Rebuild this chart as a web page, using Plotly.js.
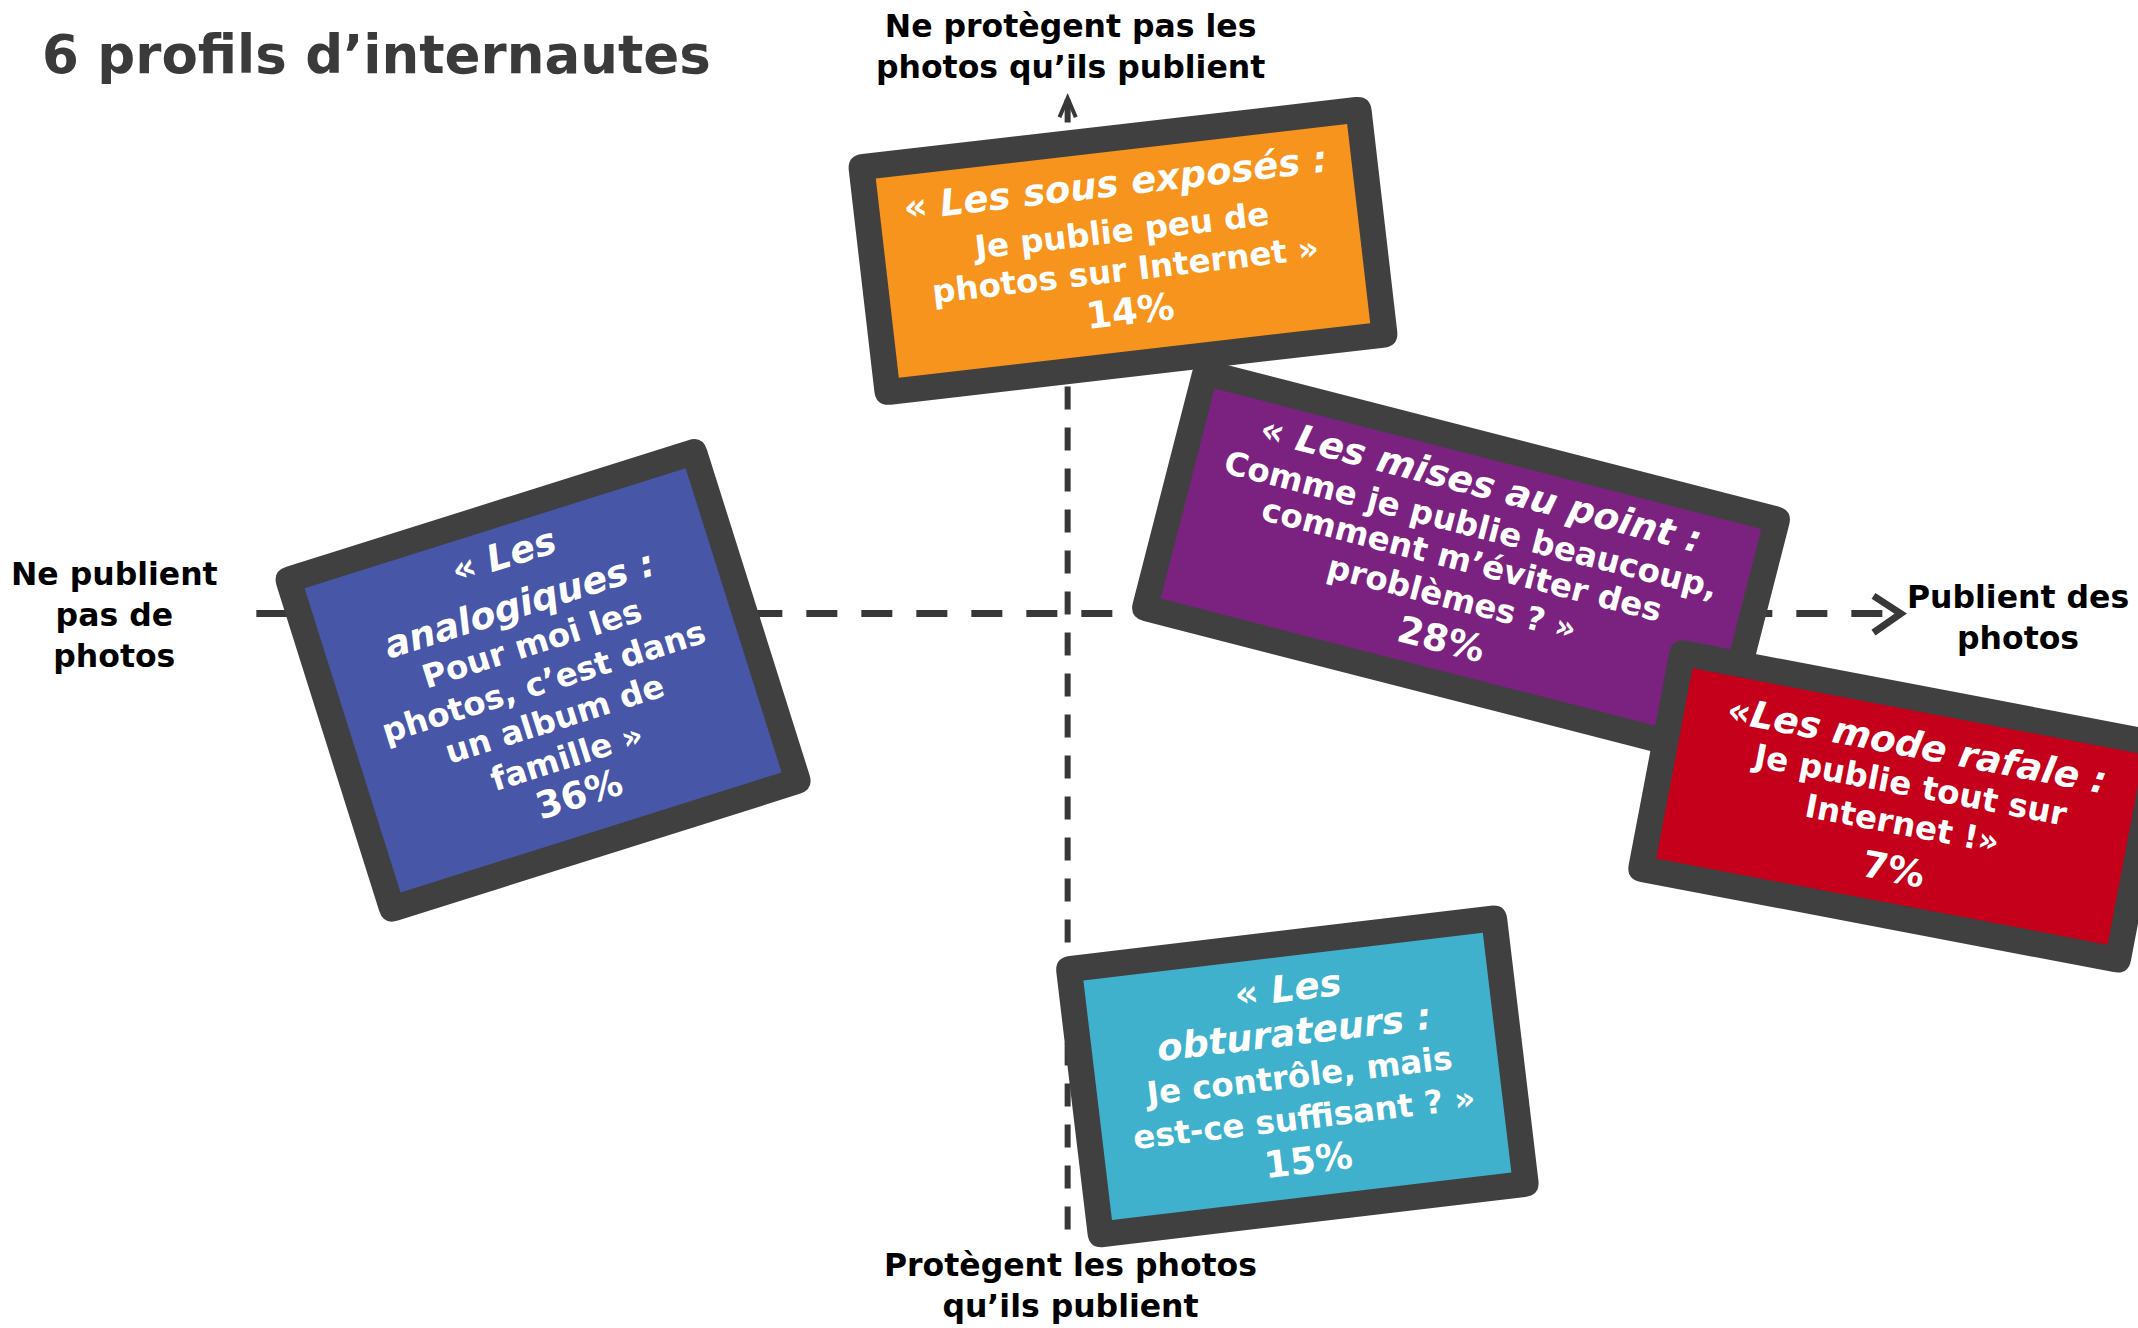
<!DOCTYPE html>
<html>
<head>
<meta charset="utf-8">
<script src="https://cdn.plot.ly/plotly-3.0.1.min.js"></script>
<style>html,body{margin:0;padding:0;background:#fff;}#chart{width:2138px;height:1328px;}</style>
</head>
<body>
<div id="chart"></div>
<script>
// ---- data ----
const chartTitle = "6 profils d’internautes";
const headLines = [
  ["« <i>Les sous exposés :</i>"],
  ["« <i>Les</i>", "<i>analogiques :</i>"],
  ["« <i>Les mises au point :</i>"],
  ["«<i>Les mode rafale :</i>"],
  ["« <i>Les</i>", "<i>obturateurs :</i>"]
];
const quoteLines = [
  ["Je publie peu de", "photos sur Internet »"],
  ["Pour moi les", "photos, c’est dans", "un album de", "famille »"],
  ["Comme je publie beaucoup,", "comment m’éviter des", "problèmes ? »"],
  ["Je publie tout sur", "Internet !»"],
  ["Je contrôle, mais", "est-ce suffisant ? »"]
];
const shares = [14, 36, 28, 7, 15];
const axisLabels = {
  top: "Ne protègent pas les<br>photos qu’ils publient",
  bottom: "Protègent les photos<br>qu’ils publient",
  left: "Ne publient<br>pas de<br>photos",
  right: "Publient des<br>photos"
};

// ---- styles / geometry (drawing units: 1568 x 974 canvas) ----
const boxColors = ['#F7941D', '#4756A6', '#7B2280', '#C4001A', '#3FB1CC'];
const frameColor = '#404040';
const geom = [
  {cx: 823.6, cy: 184,   w: 386, h: 185, ang: -6.6,  du: 0, dv: [-50, -15, 14, 45]},
  {cx: 398.3, cy: 499,   w: 331, h: 272, ang: -17.5, du: 0, dv: [-96, -58, -28, 1, 30, 59, 88]},
  {cx: 1071.5, cy: 413.5, w: 452, h: 197, ang: 14.4, du: 0, dv: [-60, -29, -2.5, 26, 57]},
  {cx: 1393.5, cy: 591.5, w: 375, h: 180, ang: 10.8, du: 4, dv: [-46, -16.5, 12, 46]},
  {cx: 951.5, cy: 789.5, w: 333, h: 215, ang: -6.8, du: 1, dv: [-65, -32, 0, 30.6, 62]}
];
const drawOrder = [2, 0, 3, 1, 4];
const frame = 19, radius = 11;
const FONT = 'DejaVu Sans, Verdana, sans-serif';

function pt(g, lx, ly) {
  const t = g.ang * Math.PI / 180, c = Math.cos(t), s = Math.sin(t);
  return [g.cx + lx * c - ly * s, g.cy + lx * s + ly * c];
}
function P(p) { return p[0].toFixed(2) + ',' + p[1].toFixed(2); }
function roundedRect(g, w, h, r) {
  const a = w / 2, b = h / 2;
  let d = 'M' + P(pt(g, -a + r, -b));
  d += ' L' + P(pt(g, a - r, -b)) + ' Q' + P(pt(g, a, -b)) + ' ' + P(pt(g, a, -b + r));
  d += ' L' + P(pt(g, a, b - r)) + ' Q' + P(pt(g, a, b)) + ' ' + P(pt(g, a - r, b));
  d += ' L' + P(pt(g, -a + r, b)) + ' Q' + P(pt(g, -a, b)) + ' ' + P(pt(g, -a, b - r));
  d += ' L' + P(pt(g, -a, -b + r)) + ' Q' + P(pt(g, -a, -b)) + ' ' + P(pt(g, -a + r, -b)) + ' Z';
  return d;
}
function rect(g, w, h) {
  const a = w / 2, b = h / 2;
  return 'M' + P(pt(g, -a, -b)) + ' L' + P(pt(g, a, -b)) + ' L' + P(pt(g, a, b)) + ' L' + P(pt(g, -a, b)) + ' Z';
}

const shapes = [];
const annotations = [];
const dashColor = '#383838';

// axes (dashed) with chevrons
shapes.push({type: 'line', xref: 'x', yref: 'y', x0: 188, y0: 450, x1: 1392, y1: 450,
  line: {color: dashColor, width: 7, dash: '31px,24px'}});
shapes.push({type: 'line', xref: 'x', yref: 'y', x0: 783, y0: 73, x1: 783, y1: 912,
  line: {color: dashColor, width: 6, dash: '23px,18px'}});
shapes.push({type: 'path', xref: 'x', yref: 'y', path: 'M1374,437 L1394,450 L1374,464',
  line: {color: dashColor, width: 7}});
shapes.push({type: 'path', xref: 'x', yref: 'y', path: 'M777,86 L783,72 L789,86',
  line: {color: dashColor, width: 4}});

drawOrder.forEach(i => {
  const g = geom[i];
  shapes.push({type: 'path', xref: 'x', yref: 'y', path: roundedRect(g, g.w, g.h, radius),
    fillcolor: frameColor, line: {width: 0}});
  shapes.push({type: 'path', xref: 'x', yref: 'y', path: rect(g, g.w - 2 * frame, g.h - 2 * frame),
    fillcolor: boxColors[i], line: {width: 0}});
  const lines = [];
  headLines[i].forEach(t => lines.push({t: t, size: 37}));
  quoteLines[i].forEach(t => lines.push({t: t, size: 32.5}));
  lines.push({t: shares[i] + '%', size: 37});
  lines.forEach((ln, j) => {
    const p = pt(g, g.du, g.dv[j]);
    annotations.push({x: p[0], y: p[1], xref: 'x', yref: 'y', text: ln.t, showarrow: false,
      textangle: g.ang, xanchor: 'center', yanchor: 'middle',
      font: {family: FONT, size: ln.size, color: '#ffffff', weight: 'bold'}});
  });
});

const labFont = {family: FONT, size: 31.5, color: '#000000', weight: 'bold'};
annotations.push({x: 785, y: 34, xref: 'x', yref: 'y', text: axisLabels.top, showarrow: false, xanchor: 'center', yanchor: 'middle', align: 'center', font: labFont});
annotations.push({x: 785, y: 943, xref: 'x', yref: 'y', text: axisLabels.bottom, showarrow: false, xanchor: 'center', yanchor: 'middle', align: 'center', font: labFont});
annotations.push({x: 84, y: 451, xref: 'x', yref: 'y', text: axisLabels.left, showarrow: false, xanchor: 'center', yanchor: 'middle', align: 'center', font: labFont});
annotations.push({x: 1480, y: 453, xref: 'x', yref: 'y', text: axisLabels.right, showarrow: false, xanchor: 'center', yanchor: 'middle', align: 'center', font: labFont});
annotations.push({x: 29, y: 40, xref: 'x', yref: 'y', text: chartTitle, showarrow: false, xanchor: 'left', yanchor: 'middle',
  font: {family: FONT, size: 53, color: '#3a3a3a', weight: 'bold'}});

const layout = {
  width: 2138, height: 1328,
  margin: {l: 0, r: 0, t: 0, b: 0, pad: 0},
  paper_bgcolor: '#ffffff', plot_bgcolor: '#ffffff',
  showlegend: false,
  xaxis: {range: [0, 1568], visible: false, fixedrange: true},
  yaxis: {range: [974, 0], visible: false, fixedrange: true},
  shapes: shapes,
  annotations: annotations
};
Plotly.newPlot('chart', [{x: [], y: [], type: 'scatter', mode: 'markers', hoverinfo: 'skip'}], layout, {staticPlot: true, displayModeBar: false});
</script>
</body>
</html>
